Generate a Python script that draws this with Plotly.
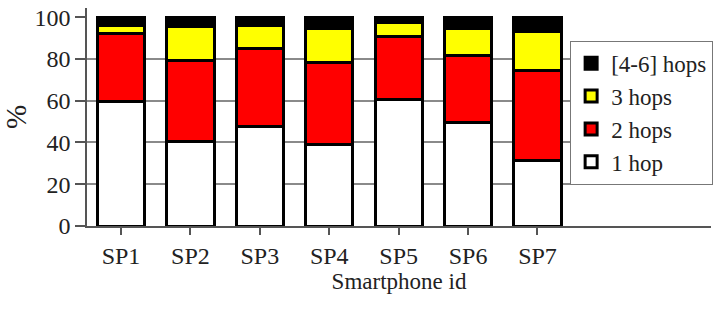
import plotly.graph_objects as go

categories = ["SP1", "SP2", "SP3", "SP4", "SP5", "SP6", "SP7"]
hop1 = [59.5, 40.3, 47.7, 38.8, 60.5, 49.4, 31.2]
hop2 = [32.7, 38.8, 37.3, 39.5, 30.1, 32.4, 43.4]
hop3 = [4.0, 16.6, 11.2, 16.3, 6.8, 12.8, 18.7]
hop46 = [3.8, 4.3, 3.8, 5.4, 2.6, 5.4, 6.7]
series_names = ["1 hop", "2 hops", "3 hops", "[4-6] hops"]
series_colors = ["#ffffff", "#ff0000", "#ffff00", "#000000"]
y_ticks = [0, 20, 40, 60, 80, 100]
grid_ticks = [20, 40, 60, 80]

FONT = "Liberation Serif"
fig = go.Figure()
for name, vals, col in zip(series_names, [hop1, hop2, hop3, hop46], series_colors):
    fig.add_trace(go.Bar(
        x=categories, y=vals, name=name,
        marker=dict(color=col, line=dict(color="black", width=3)),
    ))

yr = [0, 104.4]
fig.update_layout(
    template="none",
    width=716, height=312,
    margin=dict(l=87, r=4, t=8, b=86),
    barmode="stack", bargap=0.32,
    paper_bgcolor="white", plot_bgcolor="white",
    font=dict(family=FONT, size=24, color="#222"),
    showlegend=True,
    legend=dict(
        x=0.773, y=0.85, xanchor="left", yanchor="top",
        traceorder="reversed",
        bgcolor="white", bordercolor="#777", borderwidth=1,
        tracegroupgap=0, itemwidth=30,
        font=dict(family=FONT, size=23),
    ),
    xaxis=dict(
        title=dict(text="Smartphone id", standoff=0, font=dict(family=FONT, size=23)),
        range=[-0.49, 8.5],
        showline=True, linecolor="#555", linewidth=1.5,
        ticks="outside", ticklen=7, tickcolor="#555", tickwidth=1.5,
        showgrid=False, zeroline=False,
    ),
    yaxis=dict(
        title=dict(text="%", standoff=10),
        range=yr, tickvals=y_ticks,
        showline=True, linecolor="#555", linewidth=1.5,
        ticks="outside", ticklen=10, tickcolor="#555", tickwidth=1.5,
        showgrid=False, zeroline=False,
        minor=dict(tickvals=grid_ticks, showgrid=True, gridcolor="#8a8a8a",
                   gridwidth=2, ticks=""),
    ),
)
fig.write_html("out.html")
